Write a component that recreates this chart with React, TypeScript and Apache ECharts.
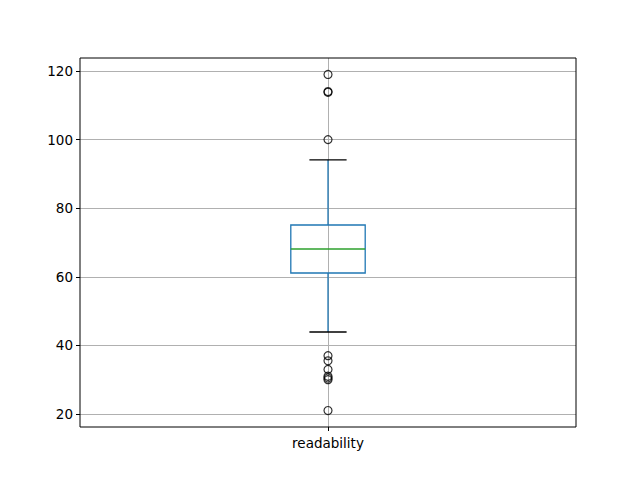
import React, { useEffect, useRef } from "react";
import * as echarts from "echarts";

const categories = ["readability"];
// [lower whisker, Q1, median, Q3, upper whisker]
const boxStats = [43.9, 61.1, 68.1, 75.1, 94.1];
const outliers = [119, 114, 113.8, 100, 37, 35.5, 33, 31, 30.5, 30, 21];
const yTicks = [20, 40, 60, 80, 100, 120];

export default function App() {
  const ref = useRef<HTMLDivElement>(null);
  useEffect(() => {
    if (!ref.current) return;
    const chart = echarts.init(ref.current, undefined, { renderer: "svg" });
    const xPos = 1;
    const boxW = 0.3;
    const capW = 0.15;
    const font = "DejaVu Sans";
    chart.setOption({
      animation: false,
      grid: {
        left: 80,
        right: 64,
        top: 58,
        bottom: 53,
        show: true,
        borderColor: "#000",
        borderWidth: 1,
        backgroundColor: "transparent",
        z: 10,
      },
      xAxis: {
        type: "value",
        min: 0,
        max: 2,
        interval: 1,
        axisLine: { show: false },
        axisTick: { show: true, length: 4, customValues: [xPos], lineStyle: { color: "#000" } },
        axisLabel: {
          customValues: [xPos],
          formatter: () => categories[0],
          color: "#000",
          fontSize: 13.5,
          fontFamily: font,
          margin: 9,
        },
        splitLine: { show: true, lineStyle: { color: "#b0b0b0", width: 1 } },
      },
      yAxis: {
        type: "value",
        min: 16.2,
        max: 123.8,
        axisLine: { show: false },
        axisTick: { show: true, length: 4, customValues: yTicks, lineStyle: { color: "#000" } },
        axisLabel: {
          customValues: yTicks,
          color: "#000",
          fontSize: 13.5,
          fontFamily: font,
          margin: 7,
        },
        splitLine: { show: true, lineStyle: { color: "#b0b0b0", width: 1 } },
      },
      series: [
        {
          type: "custom",
          data: [[xPos, ...boxStats]],
          renderItem: (params: any, api: any) => {
            const x = api.value(0);
            const lo = api.value(1);
            const q1 = api.value(2);
            const med = api.value(3);
            const q3 = api.value(4);
            const hi = api.value(5);
            const pLo = api.coord([x, lo]);
            const pQ1 = api.coord([x, q1]);
            const pMed = api.coord([x, med]);
            const pQ3 = api.coord([x, q3]);
            const pHi = api.coord([x, hi]);
            const halfBox = api.size([boxW, 0])[0] / 2;
            const halfCap = api.size([capW, 0])[0] / 2;
            const cx = pMed[0];
            const blue = "#1f77b4";
            const lw = 1.3;
            return {
              type: "group",
              children: [
                { type: "line", shape: { x1: cx, y1: pQ3[1], x2: cx, y2: pHi[1] }, style: { stroke: blue, lineWidth: lw } },
                { type: "line", shape: { x1: cx, y1: pQ1[1], x2: cx, y2: pLo[1] }, style: { stroke: blue, lineWidth: lw } },
                { type: "line", shape: { x1: cx - halfCap, y1: pHi[1], x2: cx + halfCap, y2: pHi[1] }, style: { stroke: "#000", lineWidth: lw } },
                { type: "line", shape: { x1: cx - halfCap, y1: pLo[1], x2: cx + halfCap, y2: pLo[1] }, style: { stroke: "#000", lineWidth: lw } },
                {
                  type: "rect",
                  shape: { x: cx - halfBox, y: pQ3[1], width: 2 * halfBox, height: pQ1[1] - pQ3[1] },
                  style: { fill: "none", stroke: blue, lineWidth: lw },
                },
                { type: "line", shape: { x1: cx - halfBox, y1: pMed[1], x2: cx + halfBox, y2: pMed[1] }, style: { stroke: "#2ca02c", lineWidth: lw } },
              ],
            };
          },
          z: 5,
        },
        {
          type: "scatter",
          data: outliers.map((v) => [xPos, v]),
          symbol: "circle",
          symbolSize: 8,
          itemStyle: { color: "rgba(0,0,0,0)", borderColor: "#000", borderWidth: 1.2 },
          z: 6,
        },
      ],
    });
    return () => chart.dispose();
  }, []);
  return <div ref={ref} style={{ width: 640, height: 480, margin: -8 }} />;
}
